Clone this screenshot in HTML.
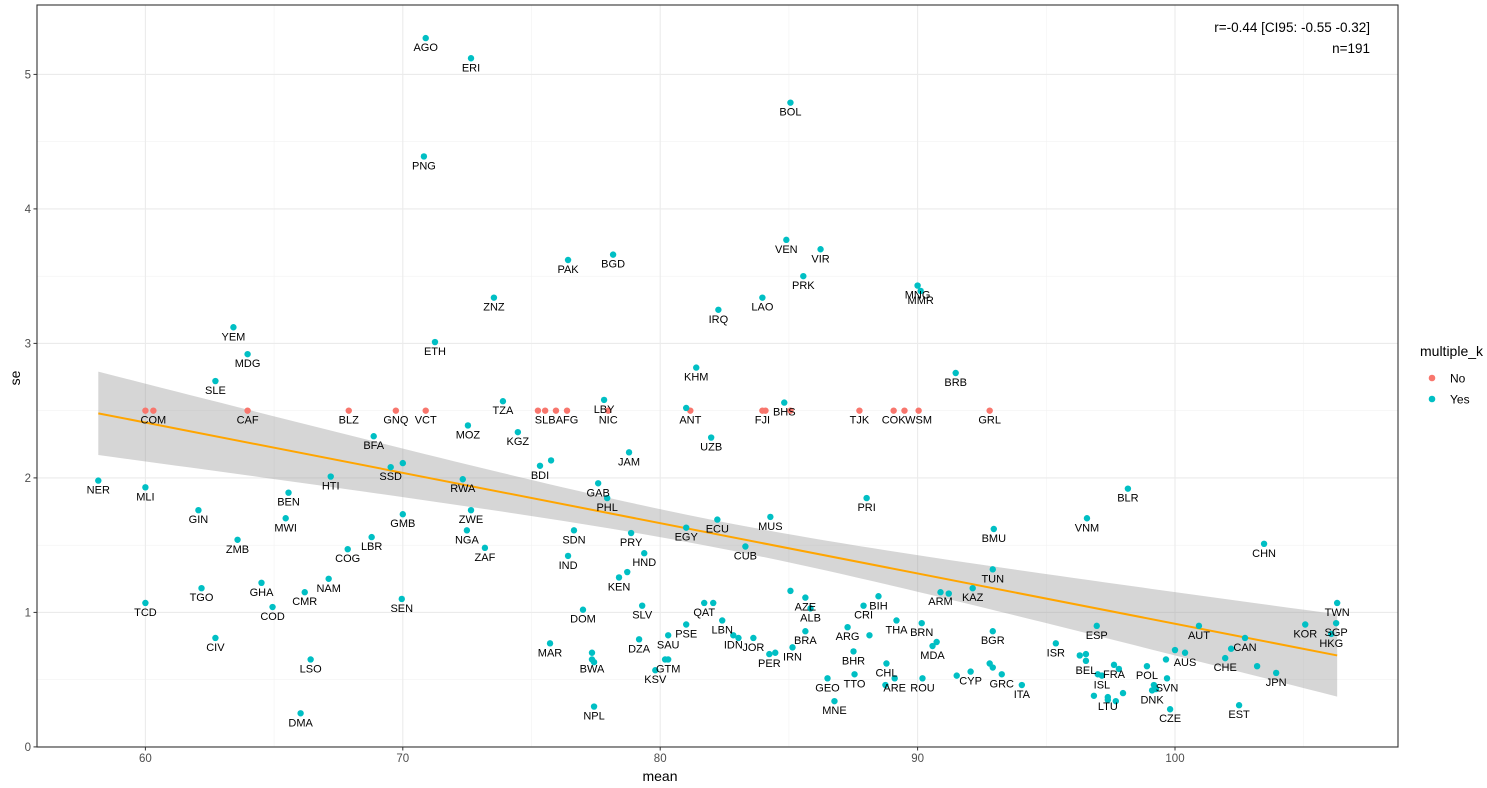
<!DOCTYPE html>
<html><head><meta charset="utf-8">
<style>
body{margin:0;background:#fff;}
svg{display:block;font-family:"Liberation Sans",Arial,sans-serif;}
</style></head>
<body>
<svg id="chart" width="1487" height="788" viewBox="0 0 1487 788">
  <rect x="0" y="0" width="1487" height="788" fill="#fff"/>
  <g id="grid"></g>
  <g id="band"></g>
  <g id="pts"></g>
  <g id="lbls"></g>
  <g id="axes"></g>
  <text x="1370" y="32" text-anchor="end" font-size="13.5" fill="#000">r=-0.44 [CI95: -0.55 -0.32]</text>
  <text x="1370" y="53" text-anchor="end" font-size="13.5" fill="#000">n=191</text>
  <text x="660" y="781" text-anchor="middle" font-size="14" fill="#000">mean</text>
  <text x="20" y="378" text-anchor="middle" font-size="14" fill="#000" transform="rotate(-90 20 378)">se</text>
  <g>
    <text x="1420" y="356" font-size="14" fill="#000">multiple_k</text>
    <g>
      <circle cx="1432" cy="378" r="3.3" fill="#F8766D"/>
      <text x="1450" y="382.5" font-size="12" fill="#000">No</text>
    </g>
    <g>
      <circle cx="1432" cy="399" r="3.3" fill="#00BFC4"/>
      <text x="1450" y="403.5" font-size="12" fill="#000">Yes</text>
    </g>
  </g>
</svg>
<script>
const codes=["AGO","ERI","BOL","PNG","VEN","VIR","PAK","BGD","ZNZ","IRQ","LAO","PRK","MNG","MMR","YEM","MDG","ETH","KHM","BRB","SLE",
"","COM","CAF","BLZ","GNQ","VCT","","SLB","","AFG","NIC","ANT","FJI","","","TJK","COK","","WSM","GRL",
"","BHS","TZA","LBY","MOZ","KGZ","UZB","BFA","JAM","BDI","","NER","MLI","HTI","SSD","","RWA","GAB","PHL","BLR","VNM","PRI",
"GIN","BEN","MWI","GMB","ZWE","NGA","ECU","EGY","MUS","SDN","PRY","ZMB","LBR","ZAF","CUB","CHN","BMU","COG","IND","HND","TUN",
"KEN","","NAM","GHA","TGO","CMR","KAZ","ARM","","TCD","SEN","COD","AZE","ALB","","BIH","CRI","QAT","","LBN","SLV","DOM","PSE",
"DZA","SAU","IDN","","JOR","PER","","IRN","BRA","ARG","","BHR","THA","BRN","MDA","","BGR","CIV","MAR","LSO","","BWA","","GTM","",
"KSV","GEO","TTO","CHL","","ARE","ROU","","CYP","","","GRC","ITA","ISR","ESP","BEL","","","ISL","","FRA","","LTU","","","","",
"POL","AUS","","","SVN","DNK","","","CZE","CHE","CAN","","AUT","JPN","","EST","KOR","TWN","SGP","HKG","NPL","MNE","DMA"];
const means=[70.89,72.65,85.06,70.82,84.90,86.23,76.42,78.17,73.54,82.26,83.97,85.56,90.00,90.12,63.42,63.97,71.25,81.40,91.48,62.72,
60.00,60.31,63.97,67.90,69.73,70.89,75.25,75.53,75.95,76.38,77.98,81.17,83.97,84.09,85.06,87.74,89.07,89.49,90.04,92.80,
81.01,84.82,73.89,77.82,72.53,74.47,81.98,68.87,78.79,75.33,75.76,58.17,60.00,67.20,69.53,70.00,72.33,77.59,77.94,98.17,96.58,88.02,
62.06,65.56,65.45,70.00,72.65,72.49,82.22,81.01,84.28,76.65,78.87,63.58,68.79,73.19,83.31,103.46,92.96,67.86,76.42,79.38,92.92,
78.40,78.72,67.12,64.51,62.18,66.19,92.14,90.89,91.21,60.00,69.96,64.94,85.64,85.84,85.06,88.48,87.90,81.71,82.06,82.41,79.30,77.00,81.01,
79.18,80.31,82.84,83.04,83.62,84.24,84.47,85.14,85.64,87.28,88.13,87.51,89.18,90.16,90.58,90.74,92.92,62.72,75.72,66.42,77.35,77.35,77.43,80.31,80.19,
79.81,86.50,87.55,88.79,88.75,89.11,90.19,91.52,92.06,92.80,92.92,93.27,94.05,95.37,96.96,96.54,96.30,96.54,97.16,97.00,97.63,97.82,97.39,96.85,97.39,97.70,97.98,
98.91,100.39,100.00,99.65,99.69,99.11,99.26,99.18,99.81,101.95,102.72,102.18,100.93,103.93,103.19,102.49,105.06,106.30,106.26,106.07,77.43,86.77,66.03];
const ses=[5.27,5.12,4.79,4.39,3.77,3.70,3.62,3.66,3.34,3.25,3.34,3.50,3.43,3.39,3.12,2.92,3.01,2.82,2.78,2.72,
2.50,2.50,2.50,2.50,2.50,2.50,2.50,2.50,2.50,2.50,2.50,2.50,2.50,2.50,2.50,2.50,2.50,2.50,2.50,2.50,
2.52,2.56,2.57,2.58,2.39,2.34,2.30,2.31,2.19,2.09,2.13,1.98,1.93,2.01,2.08,2.11,1.99,1.96,1.85,1.92,1.70,1.85,
1.76,1.89,1.70,1.73,1.76,1.61,1.69,1.63,1.71,1.61,1.59,1.54,1.56,1.48,1.49,1.51,1.62,1.47,1.42,1.44,1.32,
1.26,1.30,1.25,1.22,1.18,1.15,1.18,1.15,1.14,1.07,1.10,1.04,1.11,1.03,1.16,1.12,1.05,1.07,1.07,0.94,1.05,1.02,0.91,
0.80,0.83,0.83,0.81,0.81,0.69,0.70,0.74,0.86,0.89,0.83,0.71,0.94,0.92,0.75,0.78,0.86,0.81,0.77,0.65,0.70,0.65,0.63,0.65,0.65,
0.57,0.51,0.54,0.62,0.46,0.51,0.51,0.53,0.56,0.62,0.59,0.54,0.46,0.77,0.90,0.64,0.68,0.69,0.53,0.54,0.61,0.58,0.37,0.38,0.35,0.34,0.40,
0.60,0.70,0.72,0.65,0.51,0.42,0.43,0.46,0.28,0.66,0.81,0.73,0.90,0.55,0.60,0.31,0.91,1.07,0.92,0.84,0.30,0.34,0.25];
// 1 = Yes, 0 = No
const multiple=codes.map((c,i)=> (i>=20 && i<40) ? 0 : 1);
const xTicks=[60,70,80,90,100];
const xMinor=[65,75,85,95,105];
const yTicks=[0,1,2,3,4,5];
const yMinor=[0.5,1.5,2.5,3.5,4.5];
const fitStart=2.48, fitSlope=-0.0374, fitX0=58.17, fitCenter=82.4, bandEnd=0.31, bandMid=0.10;

const NS="http://www.w3.org/2000/svg";
const PL=37,PT=5,PR=1398,PB=747;
function X(v){return 145.4+(v-60)*25.74;}
function Y(v){return 746.9-v*134.5;}
function mk(tag,attrs,parent){const e=document.createElementNS(NS,tag);for(const k in attrs)e.setAttribute(k,attrs[k]);parent.appendChild(e);return e;}

const grid=document.getElementById('grid');
mk('rect',{x:PL,y:PT,width:PR-PL,height:PB-PT,fill:'#fff'},grid);
xMinor.forEach(v=>{const l=mk('line',{x1:X(v),x2:X(v),y1:PT,y2:PB,stroke:'#F2F2F2','stroke-width':0.6},grid);

});
yMinor.forEach(v=>{const l=mk('line',{x1:PL,x2:PR,y1:Y(v),y2:Y(v),stroke:'#F2F2F2','stroke-width':0.6},grid);

});
xTicks.forEach(v=>{const l=mk('line',{x1:X(v),x2:X(v),y1:PT,y2:PB,stroke:'#EBEBEB','stroke-width':1.1},grid);

});
yTicks.forEach(v=>{const l=mk('line',{x1:PL,x2:PR,y1:Y(v),y2:Y(v),stroke:'#EBEBEB','stroke-width':1.1},grid);

});

// regression band & line
const xmin=Math.min(...means), xmax=Math.max(...means);
const band=document.getElementById('band');
const up=[],dn=[];
const span=Math.max(fitCenter-xmin,xmax-fitCenter);
for(let i=0;i<=80;i++){
  const m=xmin+(xmax-xmin)*i/80;
  const f=fitStart+fitSlope*(m-fitX0);
  const d=(m-fitCenter)/(fitCenter-xmin);
  const h=Math.sqrt(bandMid*bandMid+d*d*(bandEnd*bandEnd-bandMid*bandMid));
  up.push(X(m)+','+Y(f+h)); dn.unshift(X(m)+','+Y(f-h));
}
const poly=mk('polygon',{points:up.concat(dn).join(' '),fill:'#999999','fill-opacity':0.4},band);


const fl=mk('line',{x1:X(xmin),y1:Y(fitStart+fitSlope*(xmin-fitX0)),x2:X(xmax),y2:Y(fitStart+fitSlope*(xmax-fitX0)),stroke:'#FFA500','stroke-width':2},band);



const pts=document.getElementById('pts'), lbls=document.getElementById('lbls');
means.forEach((m,i)=>{
  const c=mk('circle',{cx:X(m),cy:Y(ses[i]),r:3.2,fill:multiple[i]?'#00BFC4':'#F8766D'},pts);
  
  
  if(codes[i]){
    const t=mk('text',{x:X(m),y:Y(ses[i])+13,'text-anchor':'middle','font-size':11,fill:'#000'},lbls);
    t.textContent=codes[i];
    
    
  }
});

const axes=document.getElementById('axes');
const border=mk('rect',{x:PL,y:PT,width:PR-PL,height:PB-PT,fill:'none',stroke:'#333333','stroke-width':1.1},axes);


xTicks.forEach(v=>{
  mk('line',{x1:X(v),x2:X(v),y1:PB,y2:PB+3.5,stroke:'#333','stroke-width':1},axes);
  const t=mk('text',{x:X(v),y:PB+15,'text-anchor':'middle','font-size':11.5,fill:'#4D4D4D'},axes);
  t.textContent=v;
  
  
});
yTicks.forEach(v=>{
  mk('line',{x1:PL-3.5,x2:PL,y1:Y(v),y2:Y(v),stroke:'#333','stroke-width':1},axes);
  const t=mk('text',{x:PL-6,y:Y(v)+4,'text-anchor':'end','font-size':11.5,fill:'#4D4D4D'},axes);
  t.textContent=v;
  
  
});
</script>
</body></html>
